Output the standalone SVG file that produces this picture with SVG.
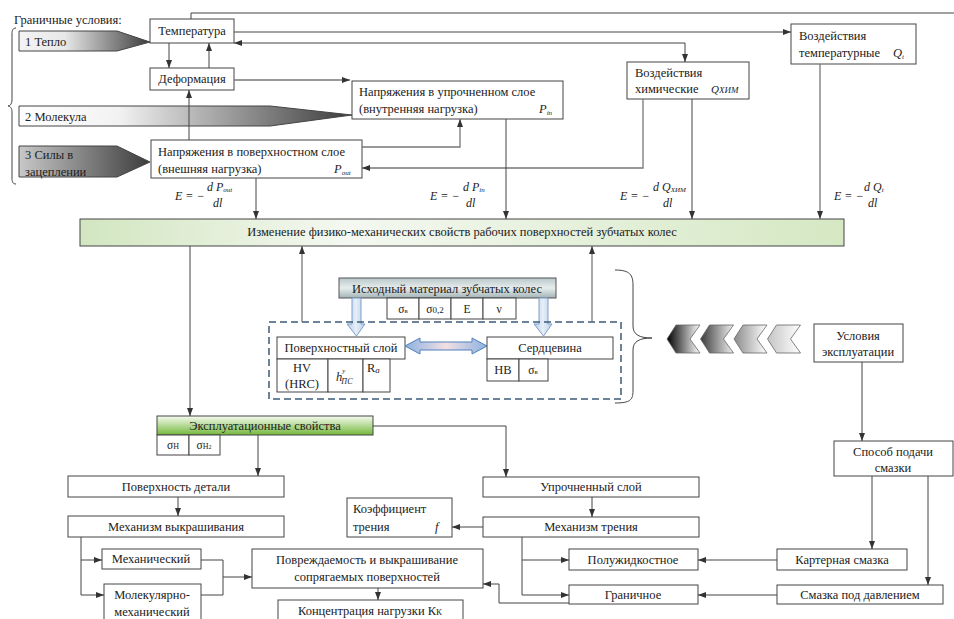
<svg xmlns="http://www.w3.org/2000/svg" width="954" height="619" viewBox="0 0 954 619">
<style>
text{font-family:"Liberation Serif","Times New Roman",serif;font-size:12.5px;fill:#222}
.c{text-anchor:middle}
.i{font-style:italic}
.sm{font-size:12.5px}
.f{font-size:12px;font-style:italic}
.box{fill:#fff;stroke:#444;stroke-width:1}
.ln{fill:none;stroke:#444;stroke-width:1}
.la{fill:none;stroke:#444;stroke-width:1;marker-end:url(#ah)}
.lg{fill:none;stroke:#777;stroke-width:1.3;marker-end:url(#ah)}
.sub{font-size:7px}
</style>
<defs>
<marker id="ah" viewBox="0 0 8 6" refX="8" refY="3" markerWidth="8" markerHeight="6" markerUnits="userSpaceOnUse" orient="auto-start-reverse"><path d="M0,0 L8,3 L0,6 z" fill="#333"/></marker>
<linearGradient id="g1" x1="0" y1="0" x2="1" y2="0"><stop offset="0" stop-color="#f4f4f4"/><stop offset="0.35" stop-color="#e8e8e8"/><stop offset="1" stop-color="#3c3c3c"/></linearGradient>
<linearGradient id="g2" x1="0" y1="0" x2="1" y2="0"><stop offset="0" stop-color="#ffffff"/><stop offset="0.3" stop-color="#f2f2f2"/><stop offset="1" stop-color="#3c3c3c"/></linearGradient>
<linearGradient id="g3" x1="0" y1="0" x2="1" y2="0"><stop offset="0" stop-color="#c8c8c8"/><stop offset="1" stop-color="#3c3c3c"/></linearGradient>
<linearGradient id="gIzm" x1="0" y1="0" x2="1" y2="0"><stop offset="0" stop-color="#d2e6c0"/><stop offset="0.35" stop-color="#f4f8f1"/><stop offset="1" stop-color="#d5e8c3"/></linearGradient>
<linearGradient id="gExp" x1="0" y1="0" x2="0" y2="1"><stop offset="0" stop-color="#f6fbf1"/><stop offset="1" stop-color="#74b83a"/></linearGradient>
<linearGradient id="gMat" x1="0" y1="0" x2="0" y2="1"><stop offset="0" stop-color="#b9c7c9"/><stop offset="0.5" stop-color="#e7eded"/><stop offset="1" stop-color="#a2b3b5"/></linearGradient>
<linearGradient id="gBlk" x1="0" y1="0" x2="1" y2="0"><stop offset="0" stop-color="#b9cfe9"/><stop offset="0.5" stop-color="#e6eef8"/><stop offset="1" stop-color="#b9cfe9"/></linearGradient>
<linearGradient id="gDbl" x1="0" y1="0" x2="1" y2="0"><stop offset="0" stop-color="#8cb2e0"/><stop offset="0.5" stop-color="#f3dfe3"/><stop offset="1" stop-color="#8cb2e0"/></linearGradient>
<linearGradient id="ch1" x1="0" y1="0" x2="1" y2="0"><stop offset="0" stop-color="#000"/><stop offset="1" stop-color="#fff"/></linearGradient>
<linearGradient id="ch2" x1="0" y1="0" x2="1" y2="0"><stop offset="0" stop-color="#3a3a3a"/><stop offset="1" stop-color="#f0f0f0"/></linearGradient>
<linearGradient id="ch3" x1="0" y1="0" x2="1" y2="0"><stop offset="0" stop-color="#8a8a8a"/><stop offset="1" stop-color="#fff"/></linearGradient>
<linearGradient id="ch4" x1="0" y1="0" x2="1" y2="0"><stop offset="0" stop-color="#c4c4c4"/><stop offset="1" stop-color="#fff"/></linearGradient>
</defs>

<g id="boundary">
<text x="14" y="24">Граничные условия:</text>
<path class="ln" d="M16,28 C13,28 12,30 12,34 L12,100 C12,104 10,106 8,106 C10,106 12,108 12,112 L12,178 C12,182 13,184 16,184" stroke="#666"/>
</g>
<g id="arrow-heat">
<polygon points="19,31 117,31 150,42 117,51 19,51" fill="url(#g1)" stroke="#444"/>
<text x="25" y="46">1 Тепло</text>
</g>
<g id="arrow-molecule">
<polygon points="19,106 270,106 352,115 270,126 19,126" fill="url(#g2)" stroke="#444"/>
<text x="25" y="121">2 Молекула</text>
</g>
<g id="arrow-forces">
<polygon points="19,146 117,146 150,162 117,177 19,177" fill="url(#g3)" stroke="#444"/>
<text x="25" y="159">3 Силы в</text>
<text x="25" y="176">зацеплении</text>
</g>

<g id="n-temp"><rect class="box" x="150" y="19" width="84" height="24"/><text class="c" x="192" y="35">Температура</text></g>
<g id="n-deform"><rect class="box" x="150" y="68" width="84" height="22"/><text class="c" x="192" y="83">Деформация</text></g>
<g id="n-pin"><rect class="box" x="352" y="81" width="211" height="38"/>
<text x="359" y="96">Напряжения в упрочненном слое</text>
<text x="359" y="113">(внутренняя нагрузка)</text>
<text class="i" x="539" y="113">P<tspan class="sub" dy="2">in</tspan></text></g>
<g id="n-pout"><rect class="box" x="151" y="140" width="211" height="38"/>
<text x="158" y="156">Напряжения в поверхностном слое</text>
<text x="158" y="173">(внешняя нагрузка)</text>
<text class="i" x="334" y="173">P<tspan class="sub" dy="2">out</tspan></text></g>
<g id="n-chem"><rect class="box" x="627" y="62" width="122" height="37"/>
<text x="635" y="77">Воздействия</text>
<text x="635" y="93">химические</text>
<text class="i" x="711" y="93" style="font-size:11px">Q<tspan style="font-size:9px">ХИМ</tspan></text></g>
<g id="n-tempq"><rect class="box" x="791" y="24" width="125" height="40"/>
<text x="799" y="40">Воздействия</text>
<text x="799" y="57">температурные</text>
<text class="i" x="893" y="57">Q<tspan class="sub" dy="2">t</tspan></text></g>

<g id="f-pout">
<text class="f" x="175" y="200">E = −</text>
<text class="f" x="207" y="191">d P<tspan class="sub" dy="1">out</tspan></text>
<text class="f" x="213" y="207">dl</text>
</g>
<g id="f-pin">
<text class="f" x="430" y="200">E = −</text>
<text class="f" x="463" y="191">d P<tspan class="sub" dy="1">in</tspan></text>
<text class="f" x="466" y="207">dl</text>
</g>
<g id="f-qchem">
<text class="f" x="620" y="200">E = −</text>
<text class="f" x="653" y="191">d Q<tspan class="sub" dy="1">ХИМ</tspan></text>
<text class="f" x="663" y="207">dl</text>
</g>
<g id="f-qt">
<text class="f" x="834" y="200">E = −</text>
<text class="f" x="864" y="191">d Q<tspan class="sub" dy="1">t</tspan></text>
<text class="f" x="868" y="207">dl</text>
</g>

<g id="n-change"><rect x="80" y="219" width="764" height="27" fill="url(#gIzm)" stroke="#444"/>
<text class="c" x="462" y="236">Изменение физико-механических свойств рабочих поверхностей зубчатых колес</text></g>

<g id="n-material"><rect x="339" y="278" width="217" height="20" fill="url(#gMat)" stroke="#555"/>
<text class="c" x="447" y="293">Исходный материал зубчатых  колес</text>
<rect class="box" x="387" y="298" width="32" height="21"/><rect class="box" x="419" y="298" width="32" height="21"/><rect class="box" x="451" y="298" width="32" height="21"/><rect class="box" x="483" y="298" width="33" height="21"/>
<text class="c" x="403" y="313" style="font-size:11.5px">σ<tspan style="font-size:7px">в</tspan></text>
<text class="c" x="435" y="313" style="font-size:11.5px">σ<tspan style="font-size:9px">0,2</tspan></text>
<text class="c" x="467" y="313" style="font-size:11.5px">E</text>
<text class="c" x="499" y="313" style="font-size:11.5px">ν</text>
</g>
<g id="blk-arrows">
<polygon points="352,298 361,298 361,324 365,324 356.5,336 347,324 352,324" fill="url(#gBlk)" stroke="#7f9fc9"/>
<polygon points="539,298 548,298 548,324 552,324 543.5,336 534,324 539,324" fill="url(#gBlk)" stroke="#7f9fc9"/>
</g>
<g id="dashed-group"><rect x="269" y="322" width="352" height="77" fill="none" stroke="#3e5b7a" stroke-width="1.5" stroke-dasharray="7,4"/></g>
<g id="n-surface">
<rect class="box" x="277" y="337" width="128" height="22"/>
<text class="c" x="341" y="352">Поверхностный слой</text>
<rect class="box" x="277" y="359" width="51" height="33"/><rect class="box" x="328" y="359" width="35" height="33"/><rect class="box" x="363" y="359" width="27" height="33"/>
<text class="c" x="302" y="372">HV</text><text class="c" x="302" y="388">(HRC)</text>
<text class="i" x="336" y="381">h<tspan style="font-size:7px" dy="-8">y</tspan><tspan style="font-size:8px" dx="-4" dy="11">ПС</tspan></text>
<text x="367" y="372">R<tspan class="i" style="font-size:9px" dy="1">a</tspan></text>
</g>
<g id="dbl-arrow"><polygon points="405,346 420,338 420,342 472,342 472,338 487,346 472,354 472,350 420,350 420,354" fill="url(#gDbl)" stroke="#4f81bd"/></g>
<g id="n-core">
<rect class="box" x="487" y="337" width="126" height="22"/>
<text class="c" x="550" y="352">Сердцевина</text>
<rect class="box" x="487" y="359" width="32" height="22"/><rect class="box" x="519" y="359" width="29" height="22"/>
<text class="c" x="503" y="374">HB</text>
<text class="c" x="533" y="374" style="font-size:11.5px">σ<tspan style="font-size:7px">в</tspan></text>
</g>
<g id="brace-right"><path class="ln" stroke="#666" d="M615,270 C630,270 633,275 633,285 L633,326 C633,335 640,338 652,338 C640,338 633,341 633,350 L633,391 C633,400 630,403 615,403"/></g>
<g id="chevrons" stroke="#666" stroke-width="0.8">
<polygon points="667,339 676,325 700,325 690,339 700,353 676,353" fill="url(#ch1)"/>
<polygon points="700.5,339 709.5,325 733.5,325 723.5,339 733.5,353 709.5,353" fill="url(#ch2)"/>
<polygon points="734,339 743,325 767,325 757,339 767,353 743,353" fill="url(#ch3)"/>
<polygon points="767.5,339 776.5,325 800.5,325 790.5,339 800.5,353 776.5,353" fill="url(#ch4)"/>
</g>
<g id="n-usl"><rect class="box" x="814" y="324" width="89" height="38"/>
<text class="c sm" x="858" y="340">Условия</text><text class="c sm" x="858" y="356">эксплуатации</text></g>

<g id="n-expl"><rect x="157" y="416" width="216" height="19" fill="url(#gExp)" stroke="#444"/>
<text class="c sm" x="265" y="430">Эксплуатационные свойства</text>
<rect class="box" x="157" y="435" width="32" height="20"/><rect class="box" x="189" y="435" width="31" height="20"/>
<text class="c" x="173" y="449" style="font-size:11.5px">σ<tspan style="font-size:8px">H</tspan></text>
<text class="c" x="204" y="449" style="font-size:11.5px">σ<tspan style="font-size:8px">H</tspan><tspan style="font-size:6px">2</tspan></text>
</g>
<g id="n-surfdet"><rect class="box" x="68" y="476" width="216" height="21"/><text class="c" x="176" y="491">Поверхность детали</text></g>
<g id="n-mechvykr"><rect class="box" x="68" y="516" width="216" height="21"/><text class="c" x="176" y="531">Механизм выкрашивания</text></g>
<g id="n-mech"><rect class="box" x="102" y="549" width="99" height="20"/><text class="c" x="151" y="563">Механический</text></g>
<g id="n-molmech"><rect class="box" x="104" y="584" width="97" height="40"/><text class="c" x="152" y="599">Молекулярно-</text><text class="c" x="152" y="616">механический</text></g>
<g id="n-damage"><rect class="box" x="252" y="549" width="231" height="39"/>
<text class="c" x="367" y="564">Повреждаемость и выкрашивание</text><text class="c" x="367" y="581">сопрягаемых поверхностей</text></g>
<g id="n-conc"><rect class="box" x="278" y="600" width="185" height="25"/><text class="c" x="370" y="615">Концентрация нагрузки К<tspan style="font-size:9px">К</tspan></text></g>
<g id="n-coef"><rect class="box" x="347" y="498" width="105" height="39"/>
<text x="353" y="513">Коэффициент</text><text x="353" y="531">трения</text><text class="i" x="435" y="531">f</text></g>

<g id="n-upr"><rect class="box" x="483" y="477" width="216" height="20"/><text class="c" x="591" y="491">Упрочненный слой</text></g>
<g id="n-mtr"><rect class="box" x="483" y="517" width="216" height="20"/><text class="c" x="591" y="531">Механизм трения</text></g>
<g id="n-polu"><rect class="box" x="569" y="549" width="129" height="21"/><text class="c" x="633" y="564">Полужидкостное</text></g>
<g id="n-gran"><rect class="box" x="569" y="585" width="129" height="19"/><text class="c" x="633" y="599">Граничное</text></g>
<g id="n-kart"><rect class="box" x="777" y="549" width="130" height="21"/><text class="c" x="842" y="564">Картерная смазка</text></g>
<g id="n-davl"><rect class="box" x="777" y="585" width="166" height="19"/><text class="c" x="860" y="599">Смазка под давлением</text></g>
<g id="n-sposob"><rect class="box" x="834" y="441" width="119" height="35"/>
<text class="c sm" x="893" y="456">Способ подачи</text><text class="c sm" x="893" y="472">смазки</text></g>

<g id="connectors">
<path class="ln" d="M191,19 V13 H954"/>
<path class="la" d="M234,32 H791"/>
<path class="la" d="M685,62 V43 H234" marker-start="url(#ah)"/>
<path class="la" d="M169,43 V68"/>
<path class="la" d="M209,68 V43"/>
<path class="lg" d="M234,80 H350"/>
<path class="la" d="M189,140 V90"/>
<path class="lg" d="M362,147 H460 V119"/>
<path class="lg" d="M643,99 V168 H362"/>
<path class="la" d="M256,178 V219"/>
<path class="la" d="M506,119 V219"/>
<path class="la" d="M692,99 V219"/>
<path class="lg" d="M820,64 V219"/>
<path class="la" d="M190,246 V416"/>
<path class="lg" d="M302,322 V246"/>
<path class="lg" d="M592,322 V246"/>
<path class="la" d="M862,362 V441"/>
<path class="la" d="M872,476 V549"/>
<path class="la" d="M928,476 V585"/>
<path class="la" d="M777,560 H698"/>
<path class="la" d="M777,595 H698"/>
<path class="la" d="M373,426 H506 V477"/>
<path class="la" d="M592,497 V517"/>
<path class="la" d="M483,527 H452"/>
<path class="la" d="M522,537 V595 H569"/>
<path class="la" d="M522,560 H569"/>
<path class="la" d="M569,603 H499 V584 H483"/>
<path class="la" d="M258,435 V476"/>
<path class="la" d="M178,497 V516"/>
<path class="la" d="M81,537 V595 H104"/>
<path class="la" d="M81,560 H102"/>
<path class="ln" d="M201,560 H223 V595 H201"/>
<path class="la" d="M223,577 H252"/>
<path class="la" d="M378,588 V600"/>
</g>
</svg>
